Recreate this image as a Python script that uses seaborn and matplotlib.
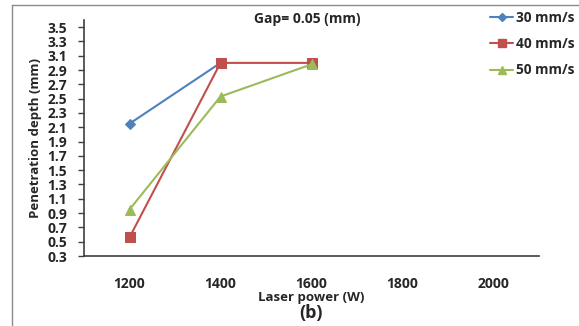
import matplotlib
matplotlib.use("Agg")
import matplotlib.pyplot as plt
import seaborn as sns
import pandas as pd
from matplotlib.lines import Line2D

# Category axis (laser power, W)
powers = ["1200", "1400", "1600", "1800", "2000"]

# Penetration depth (mm) for each welding speed
speed_30 = [2.15, 3.00]
speed_40 = [0.56, 3.00, 3.00]
speed_50 = [0.95, 2.53, 2.98]

series_names = ["30 mm/s", "40 mm/s", "50 mm/s"]
y_ticks = [0.3, 0.5, 0.7, 0.9, 1.1, 1.3, 1.5, 1.7, 1.9, 2.1, 2.3, 2.5, 2.7, 2.9, 3.1, 3.3, 3.5]

colors = {"30 mm/s": "#4F81BD", "40 mm/s": "#C0504D", "50 mm/s": "#9BBB59"}
markers = {"30 mm/s": "D", "40 mm/s": "s", "50 mm/s": "^"}
msizes = {"30 mm/s": 5, "40 mm/s": 7, "50 mm/s": 7}

rows = []
for name, vals in zip(series_names, [speed_30, speed_40, speed_50]):
    for i, v in enumerate(vals):
        rows.append({"speed": name, "pos": i, "depth": v})
df = pd.DataFrame(rows)

sns.set_style("white")
plt.rcParams["font.family"] = ["Open Sans", "DejaVu Sans"]
plt.rcParams["font.weight"] = "bold"

fig = plt.figure(figsize=(5.79, 3.26), dpi=100)
ax = fig.add_axes([84 / 579, 1 - 256 / 326, (539 - 84) / 579, (256 - 20) / 326])

for name in series_names:
    sub = df[df["speed"] == name]
    sns.lineplot(data=sub, x="pos", y="depth", ax=ax, color=colors[name],
                 marker=markers[name], markersize=msizes[name],
                 markeredgecolor=colors[name], linewidth=1.5, legend=False)

ax.set_xlim(-0.5, len(powers) - 0.5)
ax.set_ylim(0.3, 3.6)
ax.set_yticks(y_ticks)
ax.set_yticklabels([f"{t:.1f}" for t in y_ticks], fontsize=10, fontweight="bold")
ax.set_xticks(range(len(powers)))
ax.set_xticklabels(powers, fontsize=10, fontweight="bold")
ax.set_xticks([i - 0.5 for i in range(len(powers) + 1)], minor=True)
ax.tick_params(axis="x", which="major", length=0, pad=15)
ax.tick_params(axis="x", which="minor", direction="in", length=4, color="#404040", width=1)
ax.tick_params(axis="y", which="major", direction="out", length=4, color="#404040", width=1, pad=8, left=True)

for side in ["top", "right"]:
    ax.spines[side].set_visible(False)
for side in ["left", "bottom"]:
    ax.spines[side].set_color("#404040")
    ax.spines[side].set_linewidth(1.2)

ax.set_xlabel("Laser power (W)", fontsize=9.5, fontweight="bold", labelpad=0)
ax.set_ylabel("Penetration depth (mm)", fontsize=9.5, fontweight="bold", labelpad=4)
ax.grid(False)

fig.text(307 / 579, 1 - 19 / 326, "Gap= 0.05 (mm)", ha="center", va="center",
         fontsize=10, fontweight="bold")
fig.text(311 / 579, 1 - 313 / 326, "(b)", ha="center", va="center",
         fontsize=13, fontweight="bold")

handles = [Line2D([0], [0], color=colors[n], marker=markers[n], markersize=msizes[n] - 1,
                  markeredgecolor=colors[n], linewidth=1.5) for n in series_names]
fig.legend(handles, series_names, loc="upper left", bbox_to_anchor=(490 / 579, 1 - 11 / 326),
           frameon=False, borderpad=0, borderaxespad=0, handlelength=1.7, handletextpad=0.2,
           labelspacing=0.9, prop={"weight": "bold", "size": 9.8})

# Outer chart frame (top and left edges)
fig.add_artist(Line2D([12 / 579, 1], [1 - 5 / 326, 1 - 5 / 326], transform=fig.transFigure,
                      color="#8c8c8c", linewidth=1))
fig.add_artist(Line2D([12 / 579, 12 / 579], [0, 1 - 5 / 326], transform=fig.transFigure,
                      color="#8c8c8c", linewidth=1))

fig.savefig("out.png", dpi=100)
